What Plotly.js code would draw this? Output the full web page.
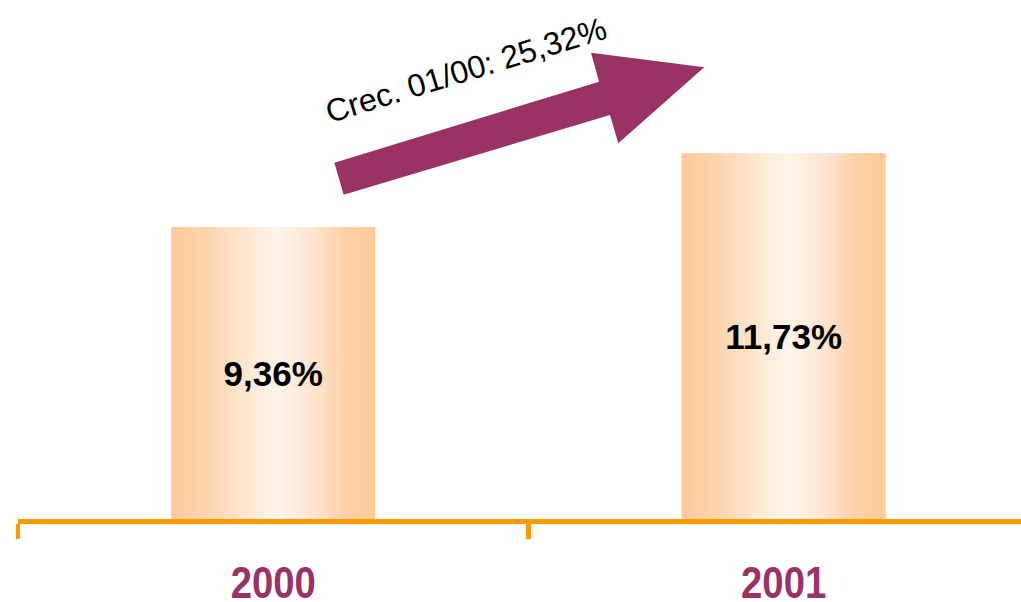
<!DOCTYPE html>
<html>
<head>
<meta charset="utf-8">
<script src="https://cdn.plot.ly/plotly-3.0.1.min.js"></script>
<style>html,body{margin:0;padding:0;background:#fff;}#chart{width:1021px;height:602px;}</style>
</head>
<body>
<div id="chart"></div>
<script>
// ---- data ----
const years = ['2000', '2001'];
const rates = [9.36, 11.73];
const growthText = 'Crec. 01/00: 25,32%';

// ---- style ----
const ORANGE = '#FF9900';
const PURPLE = '#993366';
const BAR_W = 0.4;
const N_STRIPS = 48;
// horizontal gradient across each bar (left -> right)
const gradStops = [
  [0.00, [253, 202, 154]],
  [0.20, [253, 215, 179]],
  [0.40, [254, 234, 215]],
  [0.52, [254, 245, 235]],
  [0.68, [253, 231, 210]],
  [0.86, [253, 208, 166]],
  [1.00, [254, 201, 151]]
];
function gradColor(t) {
  for (let i = 1; i < gradStops.length; i++) {
    if (t <= gradStops[i][0]) {
      const [t0, c0] = gradStops[i - 1], [t1, c1] = gradStops[i];
      const f = (t - t0) / (t1 - t0);
      const c = c0.map((v, j) => Math.round(v + (c1[j] - v) * f));
      return 'rgb(' + c.join(',') + ')';
    }
  }
  return 'rgb(' + gradStops[gradStops.length - 1][1].join(',') + ')';
}

const traces = [];
const step = BAR_W / N_STRIPS;
for (let k = 0; k < N_STRIPS; k++) {
  const off = -BAR_W / 2 + k * step;
  const w = Math.min(step * 1.6, BAR_W / 2 - off);
  traces.push({
    type: 'bar', x: years, y: rates,
    offset: off, width: w,
    marker: { color: gradColor((k + 0.5) / N_STRIPS), line: { width: 0 } },
    hoverinfo: 'skip', showlegend: false
  });
}
// value labels
traces.push({
  type: 'bar', x: years, y: rates, width: BAR_W,
  marker: { color: 'rgba(0,0,0,0)', line: { width: 0 } },
  texttemplate: '%{y:.2f}%', textposition: 'inside', insidetextanchor: 'middle',
  textangle: 0,
  textfont: { family: 'Liberation Sans, Arial, sans-serif', size: 35, color: '#000', weight: 'bold' },
  showlegend: false, hoverinfo: 'skip'
});

// plot area in pixels
const L = 18, T = 20, W = 1003, H = 499;
const px = x => (x - L) / W;
const py = y => (T + H - y) / H;
const arrowPts = [[334.3, 162.7], [599, 81.7], [591, 52.7], [704.3, 67.3], [618.3, 143.3], [610, 115], [343.7, 194.7]];
const arrowPath = 'M' + arrowPts.map(p => px(p[0]).toFixed(4) + ',' + py(p[1]).toFixed(4)).join(' L') + ' Z';

const layout = {
  width: 1021, height: 602,
  margin: { l: L, r: 0, t: T, b: 602 - T - H, pad: 0 },
  paper_bgcolor: '#fff', plot_bgcolor: '#fff',
  barmode: 'overlay',
  separators: ',.',
  showlegend: false,
  xaxis: {
    type: 'category', range: [-0.5, 1.465],
    showline: true, linecolor: ORANGE, linewidth: 5,
    ticks: 'outside', tickson: 'boundaries', ticklen: 15, tickwidth: 4.5, tickcolor: ORANGE,
    showgrid: false, zeroline: false,
    tickfont: { family: 'Liberation Sans, Arial, sans-serif', size: 44, color: PURPLE, weight: 'bold' },
    ticklabelstandoff: 21,
    fixedrange: true
  },
  yaxis: { range: [0, 16], visible: false, fixedrange: true },
  shapes: [{
    type: 'path', xref: 'paper', yref: 'paper', path: arrowPath,
    fillcolor: PURPLE, line: { width: 0 }
  }],
  annotations: [{
    xref: 'paper', yref: 'paper', x: px(466), y: py(69.5),
    xanchor: 'center', yanchor: 'middle', showarrow: false,
    text: growthText, textangle: -17,
    font: { family: 'Liberation Sans, Arial, sans-serif', size: 32, color: '#000' }
  }]
};

Plotly.newPlot('chart', traces, layout, { displayModeBar: false, staticPlot: true }).then(gd => {
  // the year labels in the reference use a condensed face: squeeze glyphs horizontally
  gd.querySelectorAll('.xtick text').forEach(t => {
    const len = t.getComputedTextLength();
    t.setAttribute('textLength', (len * 0.87).toFixed(1));
    t.setAttribute('lengthAdjust', 'spacingAndGlyphs');
  });
});
</script>
</body>
</html>
